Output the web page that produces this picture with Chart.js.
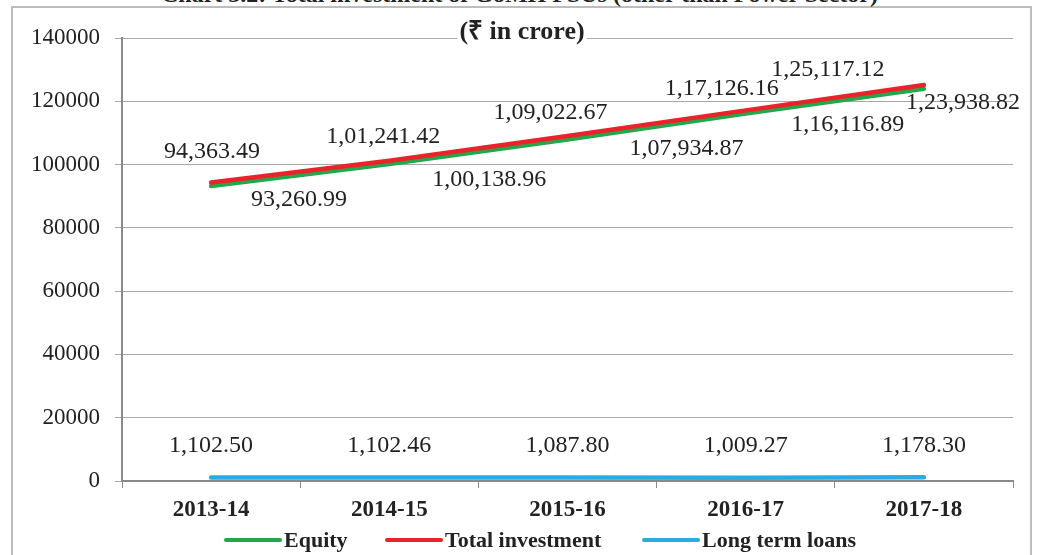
<!DOCTYPE html>
<html><head><meta charset="utf-8">
<script src="https://cdn.jsdelivr.net/npm/chart.js@4.4.1/dist/chart.umd.min.js"></script>
<style>
html,body{margin:0;padding:0;background:#fff;width:1039px;height:555px;overflow:hidden;}
#frame{position:absolute;left:11px;top:6px;width:1021px;height:600px;border:2px solid #bdbdbd;box-sizing:border-box;}
#title{position:absolute;left:0;width:1039px;top:-19px;line-height:24px;text-align:center;font:bold 24px "Liberation Serif";color:#222;white-space:nowrap;}
#wrap{position:absolute;left:0;top:0;width:1039px;height:555px;}
</style></head><body>
<div id="frame"></div>
<div id="title">Chart 3.2: Total investment of GoMH PSUs (other than Power Sector)</div>
<div id="wrap"><canvas id="c" width="1039" height="555"></canvas></div>
<script>
const categories = ['2013-14','2014-15','2015-16','2016-17','2017-18'];
const equity = [93260.99, 100138.96, 107934.87, 116116.89, 123938.82];
const totalInvestment = [94363.49, 101241.42, 109022.67, 117126.16, 125117.12];
const longTermLoans = [1102.50, 1102.46, 1087.80, 1009.27, 1178.30];
const yTickValues = [0, 20000, 40000, 60000, 80000, 100000, 120000, 140000];
const unitLabel = '(₹ in crore)';

// label offsets (pixels) relative to each point
const equityLabelOffsets = [[88,14],[100,16],[119,9],[102,11],[39,14]];
const totalLabelOffsets = [[1,-31],[-6,-24],[-17,-23],[-24,-22],[-96,-15]];
const loansLabelOffsets = [[0,-32],[0,-32],[0,-32],[0,-32],[0,-32]];
const legendLineStarts = [226, 387, 644];

const SERIF = '"Liberation Serif", "Times New Roman", serif';

function fmtIN(v){
  const parts = v.toFixed(2).split('.');
  let i = parts[0];
  let last3 = i.slice(-3), rest = i.slice(0,-3);
  if (rest) last3 = ',' + last3;
  rest = rest.replace(/\B(?=(\d{2})+(?!\d))/g, ',');
  return rest + last3 + '.' + parts[1];
}

const labelsPlugin = {
  id: 'customLabels',
  afterDatasetsDraw(chart){
    const ctx = chart.ctx;
    ctx.save();
    ctx.font = '24px ' + SERIF;
    ctx.fillStyle = '#222';
    ctx.textAlign = 'center';
    ctx.textBaseline = 'middle';
    chart.data.datasets.forEach((ds, di) => {
      const meta = chart.getDatasetMeta(di);
      meta.data.forEach((pt, i) => {
        const off = ds.labelOffsets[i];
        ctx.fillText(fmtIN(ds.data[i]), pt.x + off[0], pt.y + off[1]);
      });
    });
    // unit label with white box behind
    ctx.font = 'bold 26px ' + SERIF;
    const w = ctx.measureText(unitLabel).width;
    ctx.fillStyle = '#fff';
    ctx.fillRect(522 - w/2 - 2, 22, w + 4, 22);
    ctx.fillStyle = '#222';
    ctx.fillText(unitLabel, 522, 32);
    // legend
    ctx.textAlign = 'left';
    ctx.font = 'bold 22px ' + SERIF;
    const ly = 540;
    chart.data.datasets.forEach((ds, di) => {
      const x0 = legendLineStarts[di];
      ctx.strokeStyle = ds.borderColor;
      ctx.lineWidth = 4;
      ctx.lineCap = 'round';
      ctx.beginPath();
      ctx.moveTo(x0, ly);
      ctx.lineTo(x0 + 54, ly);
      ctx.stroke();
      ctx.fillStyle = '#222';
      ctx.fillText(ds.label, x0 + 58, ly + 1);
    });
    ctx.restore();
  }
};

new Chart(document.getElementById('c'), {
  type: 'line',
  data: {
    labels: categories,
    datasets: [
      {label:'Equity', data: equity, borderColor:'#22a84a', order:1, labelOffsets: equityLabelOffsets},
      {label:'Total investment', data: totalInvestment, borderColor:'#e8232a', order:0, labelOffsets: totalLabelOffsets},
      {label:'Long term loans', data: longTermLoans, borderColor:'#2aace2', order:2, labelOffsets: loansLabelOffsets}
    ]
  },
  options: {
    responsive: false,
    animation: false,
    devicePixelRatio: 1,
    layout: {padding: {left: 0, right: 26, top: 38, bottom: 0}},
    elements: {
      line: {borderWidth: 4.5, tension: 0, borderCapStyle: 'round', fill: false},
      point: {radius: 0, hoverRadius: 0}
    },
    plugins: {legend: {display: false}, tooltip: {enabled: false}, title: {display: false}},
    scales: {
      x: {
        type: 'category', offset: true,
        grid: {display: true, drawOnChartArea: false, drawTicks: true, tickLength: 7, color: '#8a8a8a', offset: true, lineWidth: 1},
        border: {display: true, color: '#8a8a8a', width: 2},
        ticks: {font: {family: SERIF, size: 23, weight: 'bold'}, color: '#222', padding: 8, maxRotation: 0, autoSkip: false},
        afterFit(s){ s.height = 74; }
      },
      y: {
        min: 0, max: 140000,
        afterBuildTicks(s){ s.ticks = yTickValues.map(v => ({value: v})); },
        grid: {color: '#a8a8a8', lineWidth: 1, tickLength: 7, drawTicks: true},
        border: {display: true, color: '#8a8a8a', width: 2},
        ticks: {font: {family: SERIF, size: 23}, color: '#222', padding: 15, callback: v => String(v)},
        afterFit(s){ s.width = 122; }
      }
    }
  },
  plugins: [labelsPlugin]
});
</script>
</body></html>
